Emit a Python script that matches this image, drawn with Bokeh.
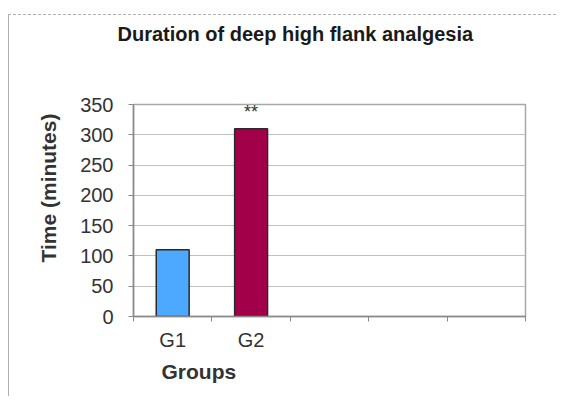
from bokeh.plotting import figure
from bokeh.models import ColumnDataSource, Range1d, FixedTicker, Title
from bokeh.core.properties import value
from bokeh.embed import file_html
from bokeh.resources import INLINE

# ---- data ----
groups = ["G1", "G2"]
durations = [110, 310]
significance = ["", "**"]
bar_colors = ["#4da8ff", "#a3004a"]
n_slots = 5
y_ticks = [0, 50, 100, 150, 200, 250, 300, 350]
title_text = "Duration of deep high flank analgesia"
y_label = "Time (minutes)"
x_label = "Groups"

FONT = "Liberation Sans"

xs = [i + 0.5 for i in range(len(groups))]
src = ColumnDataSource(dict(x=xs, top=durations, color=bar_colors, sig=significance))

p = figure(width=548, height=382, output_backend="svg", toolbar_location=None,
           x_range=Range1d(0, n_slots), y_range=Range1d(0, 350),
           min_border_left=124, min_border_right=32, min_border_top=89, min_border_bottom=81)
p.styles = {"margin-left": "8px", "margin-top": "14px",
            "border-left": "1px solid #b0b0b0", "border-top": "1px dashed #b0b0b0"}

p.vbar(x="x", top="top", width=0.42, fill_color="color", line_color="#2a2a2a",
       line_width=1.5, source=src)
p.text(x="x", y="top", text="sig", source=src, text_align="center", text_baseline="bottom",
       y_offset=-7, text_font=value(FONT), text_font_size="18px", text_color="#333333")

# axes
p.xaxis.ticker = FixedTicker(ticks=xs, minor_ticks=list(range(n_slots + 1)))
p.xaxis.major_label_overrides = {x: g for x, g in zip(xs, groups)}
p.xaxis.major_tick_line_color = None
p.xaxis.major_tick_out = 0
p.xaxis.major_tick_in = 0
p.xaxis.minor_tick_out = 5
p.xaxis.minor_tick_in = 0
p.xaxis.minor_tick_line_color = "#888888"
p.xaxis.major_label_standoff = 7

p.yaxis.ticker = FixedTicker(ticks=y_ticks)
p.yaxis.major_tick_out = 5
p.yaxis.major_tick_in = 0
p.yaxis.minor_tick_line_color = None
p.yaxis.major_label_standoff = 15
p.yaxis.major_tick_line_color = "#888888"

for ax in (p.xaxis, p.yaxis):
    ax.axis_line_color = "#888888"
    ax.axis_line_width = 1.5
    ax.major_label_text_font = FONT
    ax.major_label_text_font_size = "20px"
    ax.major_label_text_color = "#333333"

p.xgrid.grid_line_color = None
p.ygrid.grid_line_color = "#c0c0c0"
p.ygrid.grid_line_width = 1
p.outline_line_color = "#a8a8a8"
p.outline_line_width = 1.5
p.background_fill_color = "white"

# title (furthest from frame) with a blank spacer title between it and the frame
p.title.text = title_text
p.title.align = "left"
p.title.offset = -16
p.title.standoff = 4
p.title.text_font = FONT
p.title.text_font_size = "20px"
p.title.text_font_style = "bold"
p.title.text_color = "#1a1a1a"
p.add_layout(Title(text=" ", text_font_size="10px", standoff=45), "above")

p.add_layout(Title(text=y_label, align="left", offset=54, standoff=36, text_font=FONT,
                   text_font_size="21px", text_font_style="bold", text_color="#333333"), "left")
p.add_layout(Title(text=x_label, align="left", offset=28, standoff=8, text_font=FONT,
                   text_font_size="21px", text_font_style="bold", text_color="#333333"), "below")

open("out.html", "w").write(file_html(p, INLINE))
